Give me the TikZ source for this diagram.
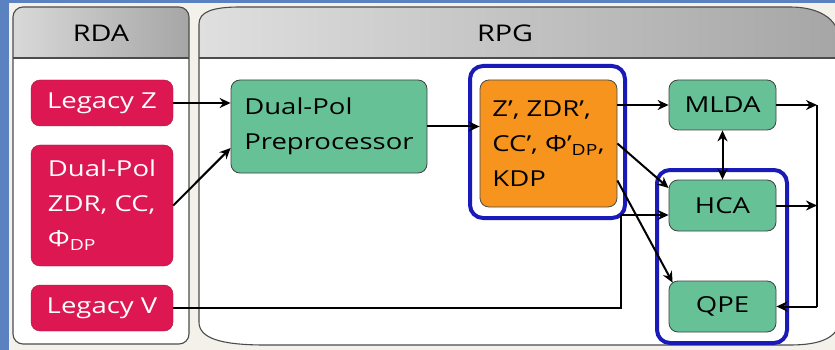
\documentclass[tikz,border=0pt]{standalone}
\usepackage{fontspec}
\setmainfont[FakeStretch=1.25]{Open Sans}
\usetikzlibrary{arrows.meta, calc}

\definecolor{rdared}{RGB}{221,23,81}
\definecolor{procgreen}{RGB}{102,194,150}
\definecolor{varorange}{RGB}{247,148,29}
\definecolor{hiblue}{RGB}{26,26,184}
\definecolor{frameblue}{RGB}{91,130,192}
\definecolor{paper}{RGB}{243,241,233}

% outline of the RPG panel (its right edge runs off the page)
\newcommand{\rpgshape}{(199,24) .. controls (199,12) and (212,7) .. (240,7) -- (790,7)
    .. controls (818,7) and (838,18) .. (840,40) -- (840,320)
    .. controls (838,338) and (820,345) .. (790,345) -- (265,345)
    .. controls (220,345) and (199,338) .. (199,322) -- cycle}

\begin{document}
\begin{tikzpicture}[
    x=1pt, y=-1pt,
    >=Stealth,
    flow/.style={line width=2pt, -{Stealth[length=11pt, width=10pt]}},
    twoway/.style={line width=2pt, {Stealth[length=11pt, width=10pt]}-{Stealth[length=11pt, width=10pt]}},
    link/.style={line width=2pt},
    basebox/.style={rounded corners=9pt, inner sep=0pt, align=left,
        font={\fontsize{22}{35}\selectfont}},
    srcbox/.style={basebox, draw=rdared!75!black, fill=rdared, text=white,
        minimum width=142pt},
    procbox/.style={basebox, draw=black!75, line width=0.8pt, fill=procgreen},
    varbox/.style={basebox, draw=black!70, line width=0.8pt, fill=varorange},
    panel/.style={draw=black!70, line width=1.1pt},
    hilite/.style={draw=hiblue, line width=4pt, rounded corners=13pt},
    header/.style={font={\fontsize{23}{27}\selectfont}},
]

\useasboundingbox (0,0) rectangle (835,350);

% =============================================================================
% Background and panels
% =============================================================================
\fill[paper] (0,0) rectangle (835,350);
\fill[frameblue] (0,0) rectangle (9,350);
\fill[frameblue] (0,0) rectangle (835,3);

% --- RDA panel ---
\fill[white, rounded corners=10pt] (13,7) rectangle (189,344);
\begin{scope}
    \clip[rounded corners=10pt] (13,7) rectangle (189,344);
    \shade[left color=gray!30, right color=gray!70] (13,7) rectangle (189,58);
\end{scope}
\draw[panel] (13,58) -- (189,58);
\draw[panel, rounded corners=10pt] (13,7) rectangle (189,344);
\node[header] (rdatitle) at (101,33) {RDA};

% --- RPG panel ---
\fill[white] \rpgshape;
\begin{scope}
    \clip \rpgshape;
    \shade[left color=gray!25, right color=gray!70] (199,7) rectangle (840,58);
\end{scope}
\draw[panel] (199,58) -- (840,58);
\draw[panel] \rpgshape;
\node[header] (rpgtitle) at (505,33) {RPG};

% =============================================================================
% Blocks
% =============================================================================
\node[srcbox, minimum height=46pt]  (legz) at (102,103) {Legacy Z};
\node[srcbox, minimum height=121pt] (dpol) at (102,205.5)
    {Dual-Pol\\ZDR, CC,\\Φ\textsubscript{DP}};
\node[srcbox, minimum height=46pt]  (legv) at (102,308) {Legacy V};

\node[procbox, minimum width=196pt, minimum height=93pt] (prep) at (329,126.5)
    {Dual-Pol\\Preprocessor};
\node[varbox, minimum width=137pt, minimum height=127pt] (vars) at (548.5,143.5)
    {Z’, ZDR’,\\CC’, Φ’\textsubscript{DP},\\KDP};

\node[procbox, minimum width=107pt, minimum height=50pt] (mlda) at (722.5,105) {MLDA};
\node[procbox, minimum width=107pt, minimum height=51pt] (hca)  at (722.5,205.5) {HCA};
\node[procbox, minimum width=107pt, minimum height=51pt] (qpe)  at (722.5,306.5) {QPE};

% --- highlighted groups ---
\draw[hilite] (470,66) rectangle (625,218);
\draw[hilite] (657,170) rectangle (787,343);

% =============================================================================
% Connectors
% =============================================================================
\coordinate (bus) at (817,105);
\coordinate (vturn) at (621,215);

\draw[flow] (legz.east) -- (prep.west |- legz.east);
\draw[flow] (dpol.east) -- ($(prep.west)+(0,21.5)$);
\draw[flow] (prep.east) -- (vars.west |- prep.east);
\draw[flow] (vars.east |- mlda.west) -- (mlda.west);
\draw[flow] (vars.east) -- ($(hca.west)+(0,-17.5)$);
\draw[flow] ($(vars.east)+(0,37)$) -- ($(qpe.north west)+(4,2)$);
\draw[twoway] (mlda.south) -- (hca.north);

% --- Legacy V runs under the preprocessor into HCA ---
\draw[link] (legv.east) -- (vturn |- legv.east) -- (vturn);
\draw[flow] (vturn) -- (vturn -| hca.west);

% --- outputs gathered on the right and fed back to QPE ---
\draw[flow] (mlda.east) -- (bus);
\draw[flow] (hca.east) -- (hca.east -| bus);
\draw[link] (bus) -- (bus |- qpe.east);
\draw[flow] (bus |- qpe.east) -- (qpe.east);

\end{tikzpicture}
\end{document}
